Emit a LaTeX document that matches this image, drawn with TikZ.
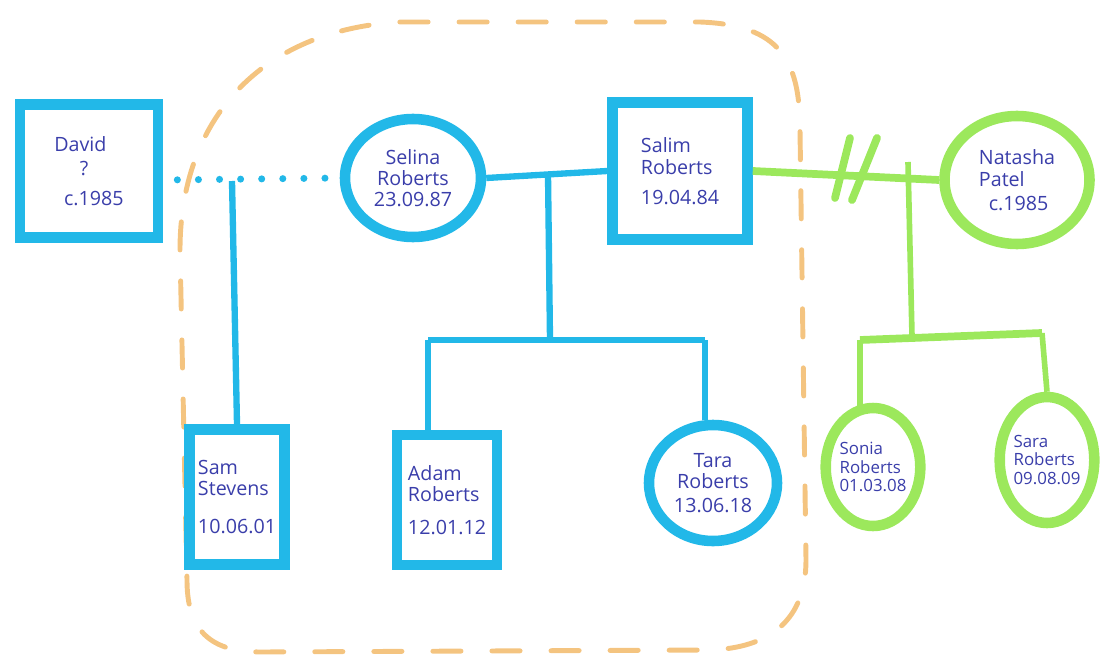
\documentclass[tikz,border=0pt]{standalone}
\usepackage{fontspec}
\setmainfont{Open Sans}
\usetikzlibrary{shapes.geometric,calc}

% pixel-like unit: 1 unit = 0.025cm, y grows downwards
\newcommand\pxl[1]{#1*0.025cm}

\definecolor{penblue}{RGB}{34,184,232}
\definecolor{pengreen}{RGB}{156,232,92}
\definecolor{penorange}{RGB}{244,196,128}
\definecolor{inkblue}{RGB}{58,62,170}

\tikzset{
  person/.style={draw=penblue, line width=7.5pt, text=inkblue, align=center,
    font=\fontsize{14}{19}\selectfont, inner sep=0pt},
  male/.style={person, rectangle},
  female/.style={person, ellipse},
  gperson/.style={person, draw=pengreen},
  link/.style={draw=penblue, line width=4.5pt},
  glink/.style={draw=pengreen, line width=5.5pt},
  dotlink/.style={draw=penblue, line width=5pt, line cap=round,
    dash pattern=on 0pt off 15pt},
  household/.style={draw=penorange, line width=3.5pt, line cap=round,
    dash pattern=on 20pt off 22pt},
}

\begin{document}
\begin{tikzpicture}[x=0.025cm, y=-0.025cm]
  \useasboundingbox (0,0) rectangle (1106,664);

  % household boundary
  \draw[household] (400,22) -- (700,22)
    .. controls (780,25) and (800,60) .. (800,130)
    -- (806,560) .. controls (806,620) and (770,648) .. (710,650)
    -- (260,652) .. controls (205,652) and (187,625) .. (187,580)
    -- (180,250) .. controls (180,120) and (260,30) .. (400,22) -- cycle;

  % people
  \node[male, minimum width=\pxl{138}, minimum height=\pxl{133}, align=left]
    (david) at (89,171) {David\\[-2pt]\hspace{1.3em}?\\[2pt]\hspace{0.5em}c.1985};
  \node[female, minimum width=\pxl{136}, minimum height=\pxl{118}]
    (selina) at (413,178) {Selina\\[-4pt]Roberts\\[-4pt]23.09.87};
  \node[male, minimum width=\pxl{135}, minimum height=\pxl{137}, align=left]
    (salim) at (680,171) {Salim\\[-3pt]Roberts\\[2pt]19.04.84};
  \node[female, gperson, minimum width=\pxl{145}, minimum height=\pxl{128}, align=left]
    (natasha) at (1017,180) {Natasha\\[-3pt]Patel\\[-2pt]\hspace{0.5em}c.1985};

  \node[male, minimum width=\pxl{95}, minimum height=\pxl{135}, align=left]
    (sam) at (237,497) {Sam\\[-4pt]Stevens\\[8pt]10.06.01};
  \node[male, minimum width=\pxl{100}, minimum height=\pxl{130}, align=left]
    (adam) at (447,500) {Adam\\[-4pt]Roberts\\[4pt]12.01.12};
  \node[female, minimum width=\pxl{128}, minimum height=\pxl{116}]
    (tara) at (713,483) {Tara\\[-4pt]Roberts\\[-2pt]13.06.18};
  \node[female, gperson, minimum width=\pxl{82}, minimum height=\pxl{118},
    font=\fontsize{12}{16}\selectfont, align=left]
    (sonia) at (873,467) {Sonia\\[-3pt]Roberts\\[-3pt]01.03.08};
  \node[female, gperson, minimum width=\pxl{92}, minimum height=\pxl{126},
    font=\fontsize{12}{16}\selectfont, align=left]
    (sara) at (1047,460) {Sara\\[-3pt]Roberts\\[-3pt]09.08.09};

  % junction points
  \coordinate (dsj) at (232,181);
  \coordinate (ssj) at (548,174);
  \coordinate (ssk) at (550,340);
  \coordinate (sibl) at (428,340);
  \coordinate (sibr) at (705,340);
  \coordinate (snj) at (908,162);
  \coordinate (snk) at (912,336);
  \coordinate (gsibl) at (860,340);
  \coordinate (gsibr) at (1042,333);
  \coordinate (cut1a) at (835,198);
  \coordinate (cut1b) at (850,138);
  \coordinate (cut2a) at (852,200);
  \coordinate (cut2b) at (877,138);

  % David and Selina, not a couple
  \draw[dotlink, shorten <=10pt, shorten >=6pt] (david.east |- 0,180) -- (selina.west);
  \draw[link] (dsj) -- (sam.north);

  % Selina and Salim
  \draw[link] (selina.east) -- (salim.west);
  \draw[link] (ssj) -- (ssk);
  \draw[link] (sibl) -- (sibr);
  \draw[link] (sibl) -- (sibl |- adam.north);
  \draw[link] (sibr) -- (sibr |- tara.north);

  % Salim and Natasha, separated
  \draw[glink] (salim.east) -- (natasha.west);
  \draw[glink, line cap=round] (cut1a) -- (cut1b);
  \draw[glink, line cap=round] (cut2a) -- (cut2b);
  \draw[glink, line width=4pt] (snj) -- (snk);
  \draw[glink] (gsibl) -- (gsibr);
  \draw[glink, line width=4pt] (gsibl) -- ([yshift=-3pt]gsibl |- sonia.north);
  \draw[glink, line width=4pt] (gsibr) -- (sara.north);
\end{tikzpicture}
\end{document}
